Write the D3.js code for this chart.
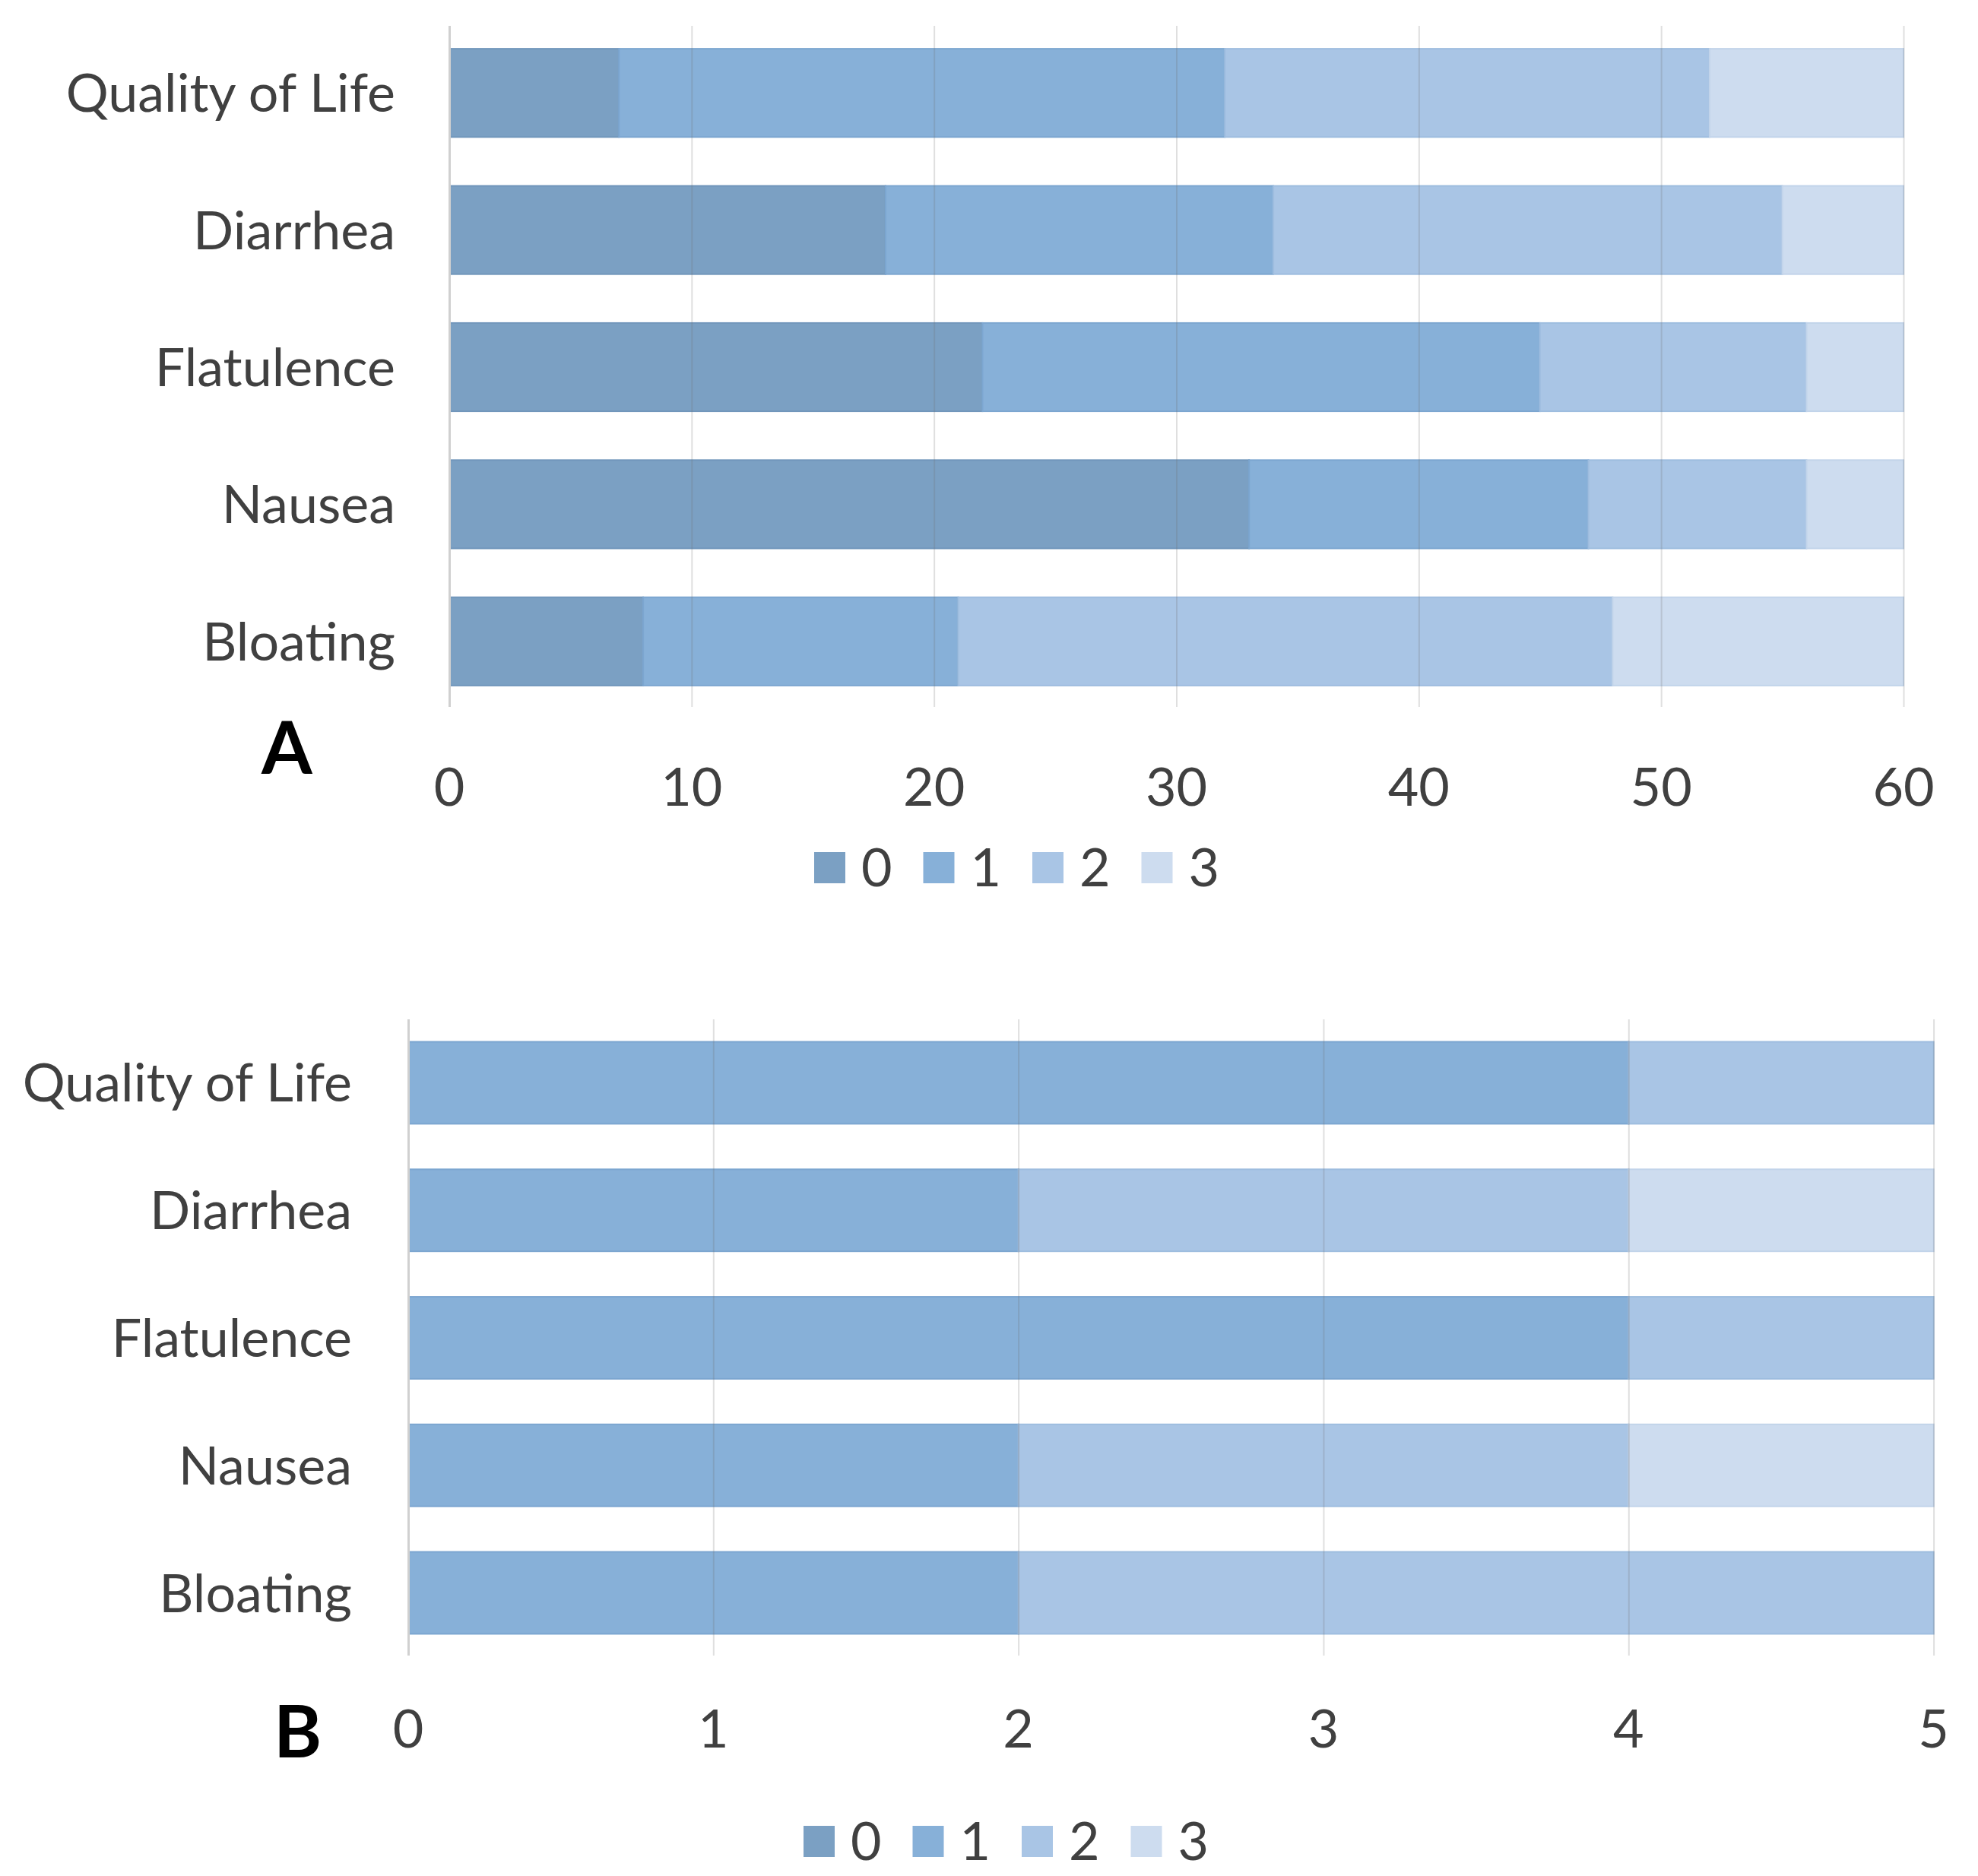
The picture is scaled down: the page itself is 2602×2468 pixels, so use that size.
<!DOCTYPE html>
<html>
<head>
<meta charset="utf-8">
<script src="https://cdn.jsdelivr.net/npm/d3@7"></script>
<style>
  html, body { margin: 0; padding: 0; background: #fff; }
  svg { display: block; }
  text { font-family: Lato, "Open Sans", sans-serif; fill: #404040; }
</style>
</head>
<body>
<div id="chart"></div>
<script>
const categories = ['Quality of Life', 'Diarrhea', 'Flatulence', 'Nausea', 'Bloating'];
const levels = ['0', '1', '2', '3'];

// panel A, count per score level
const aLevel0 = [7, 18, 22, 33, 8];
const aLevel1 = [25, 16, 23, 14, 13];
const aLevel2 = [20, 21, 11, 9, 27];
const aLevel3 = [8, 5, 4, 4, 12];
const aTicks = [0, 10, 20, 30, 40, 50, 60];

// panel B
const bLevel0 = [0, 0, 0, 0, 0];
const bLevel1 = [4, 2, 4, 2, 2];
const bLevel2 = [1, 2, 1, 2, 3];
const bLevel3 = [0, 1, 0, 1, 0];
const bTicks = [0, 1, 2, 3, 4, 5];

const colors = ['#7ba0c3', '#87b0d8', '#a9c5e5', '#cddcef'];
const strokes = ['#7196bb', '#7ca6d0', '#9ebddf', '#c2d4ea'];

const svg = d3.select('#chart')
  .append('svg')
  .attr('width', 2602)
  .attr('height', 2468);

function drawPanel(opts) {
  const rows = categories.map((c, i) => {
    const r = { cat: c };
    levels.forEach((l, j) => { r[l] = opts.series[j][i]; });
    return r;
  });
  const stacked = d3.stack().keys(levels)(rows);

  const x = d3.scaleLinear()
    .domain([0, d3.max(opts.ticks)])
    .range([opts.left, opts.right]);

  const y = d3.scaleBand()
    .domain(categories)
    .range([opts.top, opts.bottom])
    .paddingInner(0.345)
    .paddingOuter(0.1725);

  const g = svg.append('g');

  // bars
  g.append('g').selectAll('g')
    .data(stacked)
    .join('g')
    .attr('fill', (d, i) => colors[i])
    .attr('stroke', (d, i) => strokes[i])
    .attr('stroke-width', 2)
    .selectAll('rect')
    .data(d => d.filter(s => s[1] > s[0]))
    .join('rect')
    .attr('x', d => x(d[0]))
    .attr('y', d => y(d.data.cat) + 1)
    .attr('width', d => x(d[1]) - x(d[0]))
    .attr('height', y.bandwidth() - 2);

  // gridlines on top, faint like the original
  g.append('g')
    .attr('transform', `translate(0,${opts.gridBottom})`)
    .call(d3.axisBottom(x).tickValues(opts.ticks).tickSize(-(opts.gridBottom - opts.gridTop)).tickFormat(''))
    .call(a => a.select('.domain').remove())
    .call(a => a.selectAll('.tick line')
      .attr('stroke', (d, i) => i === 0 ? '#d0d0d0' : 'rgba(110,110,110,0.22)')
      .attr('stroke-width', (d, i) => i === 0 ? 3 : 2));

  // x tick labels
  g.append('g').selectAll('text')
    .data(opts.ticks)
    .join('text')
    .attr('x', d => x(d))
    .attr('y', opts.tickY)
    .attr('text-anchor', 'middle')
    .attr('font-size', 70)
    .text(d => d);

  // category labels
  g.append('g').selectAll('text')
    .data(categories)
    .join('text')
    .attr('x', opts.left - opts.labelGap)
    .attr('y', d => y(d) + y.bandwidth() / 2 + 25)
    .attr('text-anchor', 'end')
    .attr('font-size', 70)
    .text(d => d);

  // panel letter
  g.append('text')
    .attr('x', opts.letterX)
    .attr('y', opts.letterY)
    .attr('font-size', 96)
    .attr('font-weight', 700)
    .style('fill', '#000')
    .text(opts.letter);

  // legend
  const leg = g.append('g').selectAll('g')
    .data(levels)
    .join('g')
    .attr('transform', (d, i) => `translate(${opts.legendX + i * 143.5},${opts.legendY})`);
  leg.append('rect')
    .attr('x', 0)
    .attr('y', -20)
    .attr('width', 41)
    .attr('height', 41)
    .attr('fill', (d, i) => colors[i]);
  leg.append('text')
    .attr('x', 62)
    .attr('y', 25)
    .attr('font-size', 70)
    .text(d => d);
}

drawPanel({
  series: [aLevel0, aLevel1, aLevel2, aLevel3],
  ticks: aTicks,
  left: 591, right: 2504,
  top: 32, bottom: 934,
  gridTop: 34, gridBottom: 930,
  tickY: 1060,
  labelGap: 71,
  letter: 'A', letterX: 344, letterY: 1018,
  legendX: 1071, legendY: 1141
});

drawPanel({
  series: [bLevel0, bLevel1, bLevel2, bLevel3],
  ticks: bTicks,
  left: 537, right: 2543.6,
  top: 1340.6, bottom: 2179.4,
  gridTop: 1341, gridBottom: 2178,
  tickY: 2299,
  labelGap: 74,
  letter: 'B', letterX: 360, letterY: 2312,
  legendX: 1057, legendY: 2422
});
</script>
</body>
</html>
